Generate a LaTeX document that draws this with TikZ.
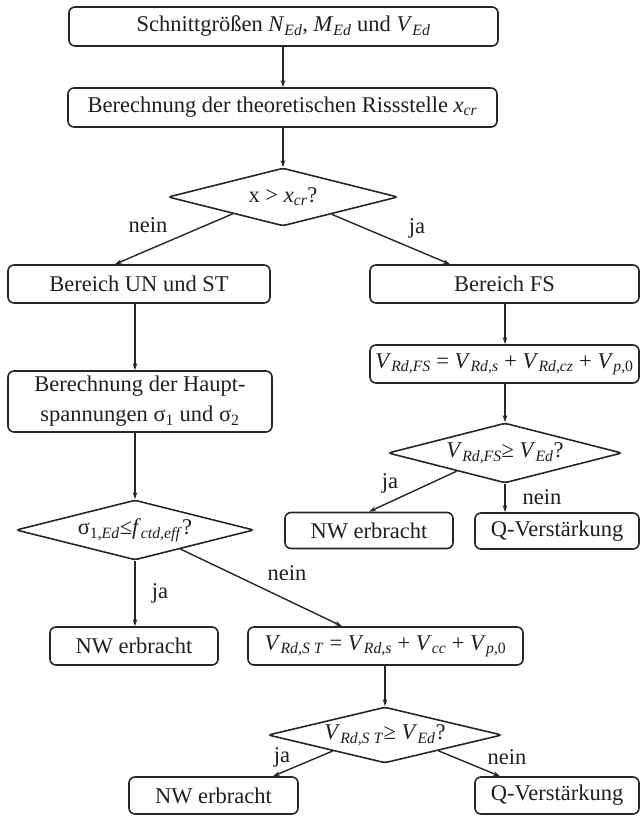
\documentclass[tikz,border=0pt]{standalone}
\usepackage{fontspec}
\setmainfont{Liberation Serif}
\usetikzlibrary{shapes.geometric,arrows.meta,calc}
\newcommand\sbs[1]{\textsubscript{#1}}
\newcommand\ii[1]{\textit{#1}}
\begin{document}
\begin{tikzpicture}[x=1pt,y=-1pt,
  font=\fontsize{22.5}{30}\selectfont,
  box/.style={draw=black!85, line width=1.6pt, rounded corners=6pt, inner sep=0pt, align=center, text=black!88},
  dec/.style={draw=black!85, line width=1.6pt, diamond, aspect=4, rounded corners=3pt, inner sep=0pt, text=black!88},
  arr/.style={draw=black!85, line width=1.4pt, -{Stealth[length=7pt,width=4.5pt]}},
  lab/.style={inner sep=0pt, text=black!88}]
\useasboundingbox (0,0) rectangle (640,816);

% boxes
\node[box, minimum width=429pt, minimum height=39pt] (B1) at (283.5,26.5)
  {Schnittgrößen \ii{N}\sbs{\ii{Ed}}, \ii{M}\sbs{\ii{Ed}} und \ii{V}\sbs{\ii{Ed}}};
\node[box, minimum width=429pt, minimum height=39pt] (B2) at (282.5,107.5)
  {Berechnung der theoretischen Rissstelle \ii{x}\sbs{\ii{cr}}};
\node[dec, minimum width=230pt, minimum height=58pt] (D1) at (283,197)
  {x > \ii{x}\sbs{\ii{cr}}?};
\node[box, minimum width=262pt, minimum height=38pt] (UN) at (139,284) {Bereich UN und ST};
\node[box, minimum width=269pt, minimum height=38pt] (FS) at (504.5,284) {Bereich FS};
\node[box, minimum width=269pt, minimum height=38pt] (VFS) at (504.5,364)
  {\ii{V}\sbs{\ii{Rd,FS}} = \ii{V}\sbs{\ii{Rd,s}} + \ii{V}\sbs{\ii{Rd,cz}} + \ii{V}\sbs{\ii{p},0}};
\node[box, minimum width=264pt, minimum height=61pt] (HS) at (140,401.5)
  {Berechnung der Haupt-\\spannungen σ\sbs{1} und σ\sbs{2}};
\node[dec, minimum width=234pt, minimum height=60pt] (D3) at (505,453)
  {\ii{V}\sbs{\ii{Rd,FS}}≥ \ii{V}\sbs{\ii{Ed}}?};
\node[box, minimum width=168pt, minimum height=36pt] (NW1) at (369,530.5) {NW erbracht};
\node[box, minimum width=164pt, minimum height=36pt] (Q1) at (557,531) {Q-Verstärkung};
\node[dec, minimum width=238pt, minimum height=60pt] (D2) at (135,530)
  {σ\sbs{1,\ii{Ed}}≤\ii{f}\sbs{\ii{ctd,eff}}?};
\node[box, minimum width=168pt, minimum height=38pt] (NW2) at (134,646) {NW erbracht};
\node[box, minimum width=275pt, minimum height=38pt] (VST) at (385.5,646)
  {\ii{V}\sbs{\ii{Rd,S T}} = \ii{V}\sbs{\ii{Rd,s}} + \ii{V}\sbs{\ii{cc}} + \ii{V}\sbs{\ii{p},0}};
\node[dec, minimum width=234pt, minimum height=56pt] (D4) at (385,735)
  {\ii{V}\sbs{\ii{Rd,S T}}≥ \ii{V}\sbs{\ii{Ed}}?};
\node[box, minimum width=169pt, minimum height=37pt] (NW3) at (213.5,795.5) {NW erbracht};
\node[box, minimum width=164pt, minimum height=37pt] (Q2) at (557,795.5) {Q-Verstärkung};

% connectors
\draw[arr] (B1.south -| D1.north) -- (B2.north -| D1.north);
\draw[arr] (B2.south -| D1.north) -- (D1.north);
\draw[arr] ($(D1.west)!0.565!(D1.south)$) -- ([xshift=-24pt]UN.north);
\draw[arr] ($(D1.east)!0.58!(D1.south)$) -- ([xshift=-54.5pt]FS.north);
\draw[arr] (UN.south -| D2.north) -- (HS.north -| D2.north);
\draw[arr] (HS.south -| D2.north) -- (D2.north);
\draw[arr] (FS.south -| D3.north) -- (VFS.north -| D3.north);
\draw[arr] (VFS.south -| D3.north) -- (D3.north);
\draw[arr] ($(D3.west)!0.59!(D3.south)$) -- (NW1.north);
\draw[arr] (D3.south) -- (Q1.north -| D3.south);
\draw[arr] (D2.south) -- (NW2.north -| D2.south);
\draw[arr] ($(D2.east)!0.62!(D2.south)$) -- ([xshift=-43.5pt]VST.north);
\draw[arr] (VST.south -| D4.north) -- (D4.north);
\draw[arr] ($(D4.west)!0.556!(D4.south)$) -- ([xshift=59.5pt]NW3.north);
\draw[arr] ($(D4.east)!0.547!(D4.south)$) -- ([xshift=-57pt]Q2.north);

% labels
\node[lab] (l1) at (148,225) {nein};
\node[lab] (l2) at (417,228) {ja};
\node[lab] (l3) at (390,483) {ja};
\node[lab] (l4) at (542,497) {nein};
\node[lab] (l5) at (160,593) {ja};
\node[lab] (l6) at (287,573) {nein};
\node[lab] (l7) at (282,757) {ja};
\node[lab] (l8) at (507,757) {nein};
\end{tikzpicture}
\end{document}
